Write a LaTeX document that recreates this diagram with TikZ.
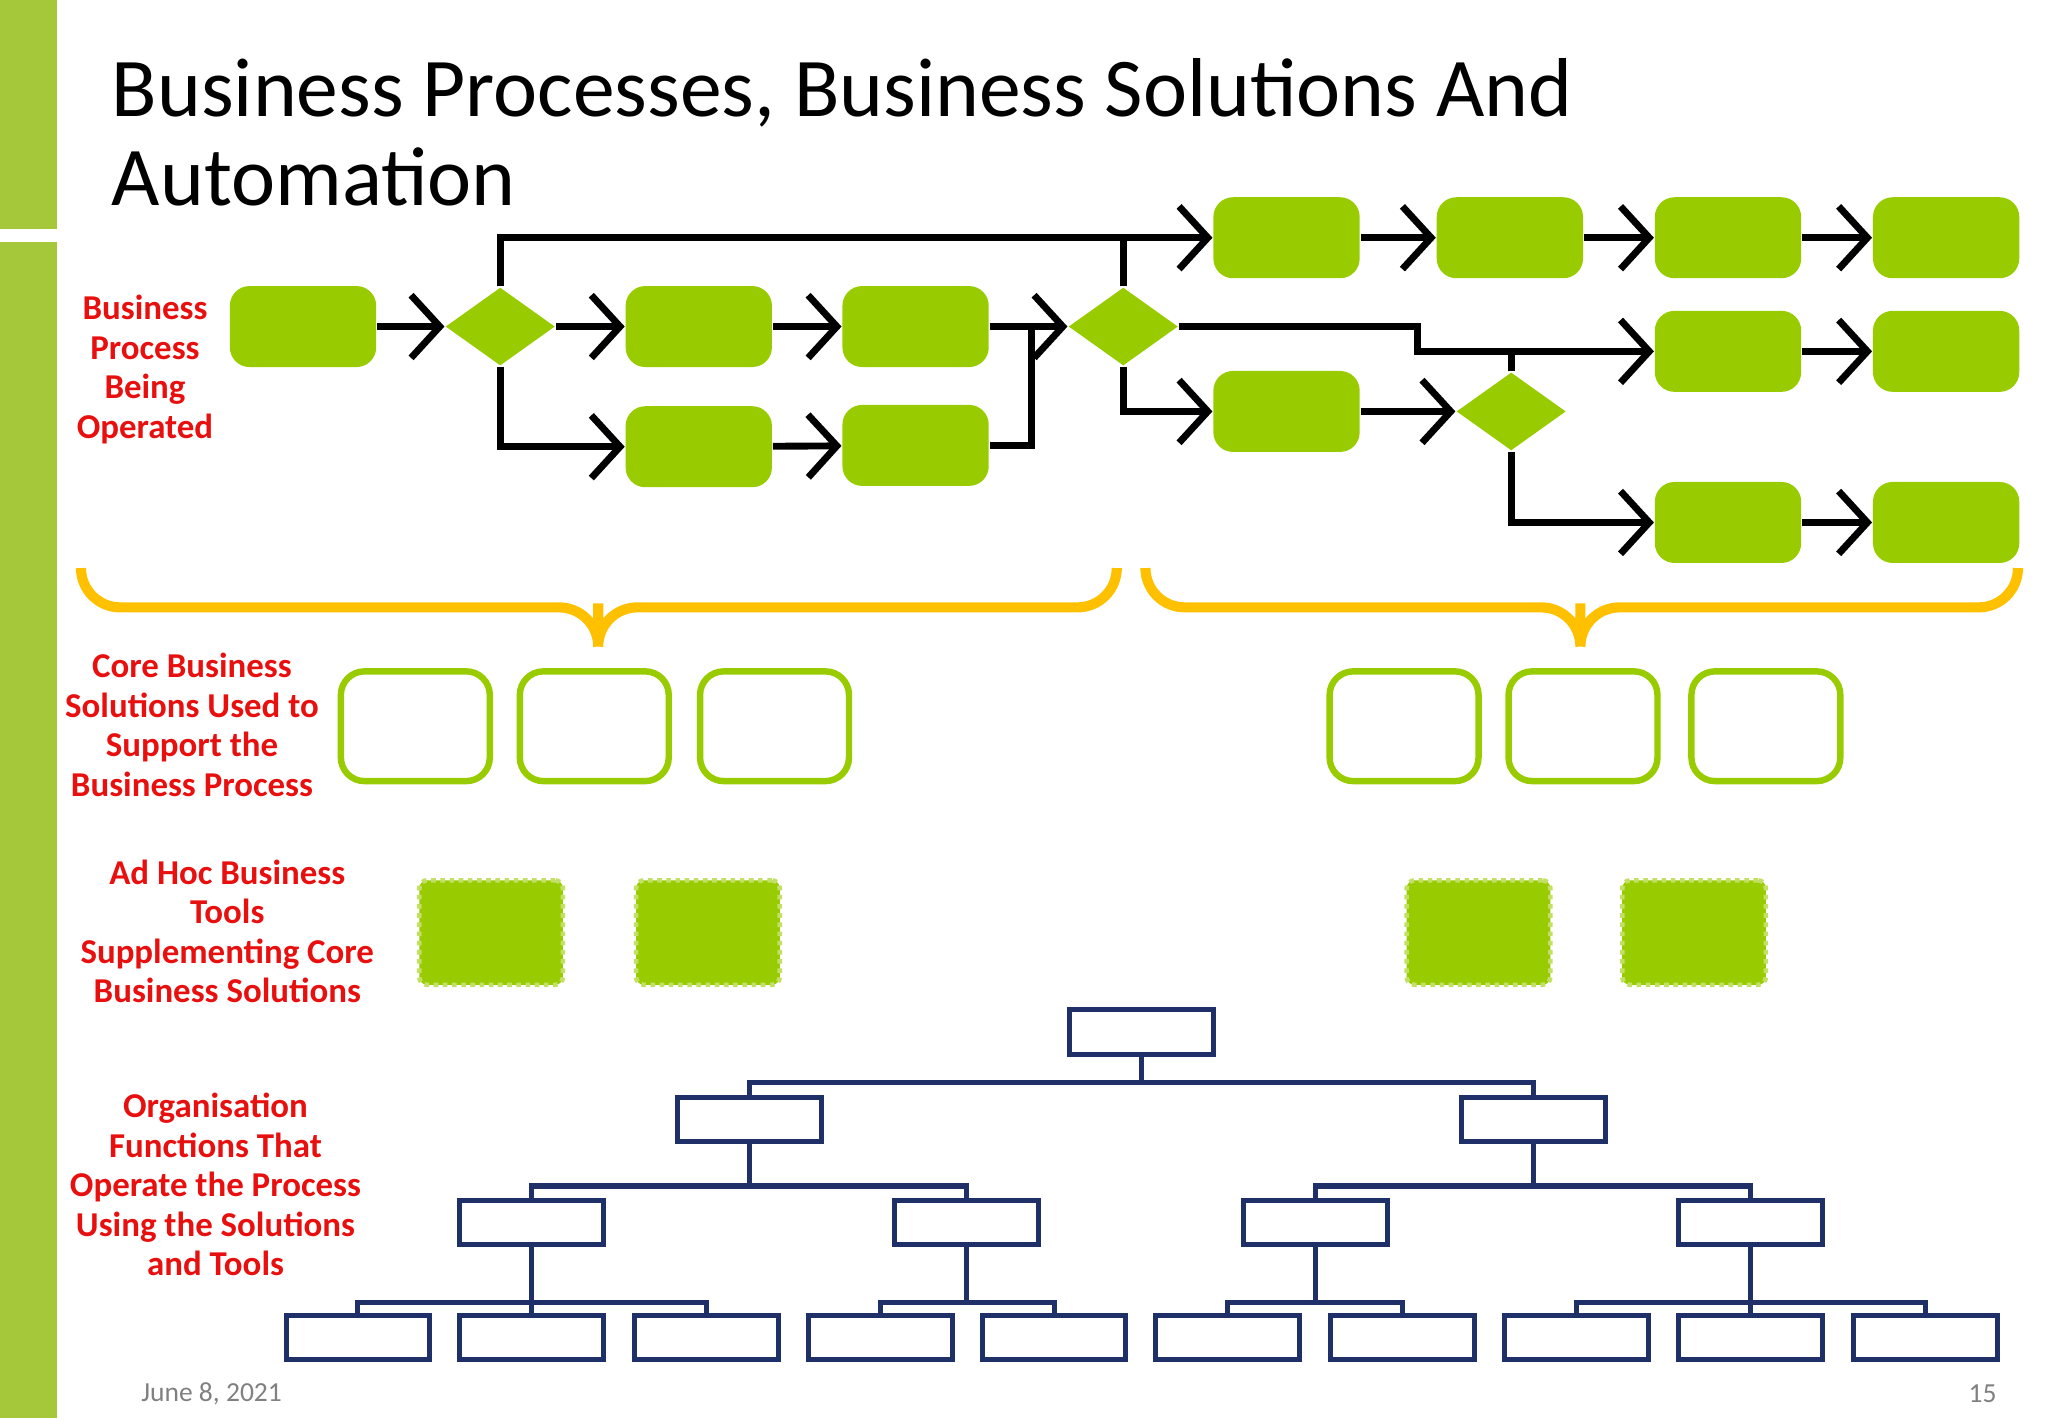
\documentclass[tikz,border=0pt]{standalone}
\usepackage{fontspec}
\setmainfont{Carlito}
\usetikzlibrary{positioning, shapes.geometric, arrows.meta}
\definecolor{leaf}{HTML}{99CC00}
\definecolor{bar}{HTML}{A5C73A}
\definecolor{brace}{HTML}{FFC000}
\definecolor{navy}{HTML}{1F3068}
\definecolor{lbl}{HTML}{E8100F}
\tikzset{
  task/.style = {rounded corners=1.5mm, fill=leaf, minimum width=11.2mm, minimum height=6.2mm},
  gate/.style = {diamond, fill=leaf, minimum width=8.4mm, minimum height=6mm, inner sep=0},
  sol/.style = {rounded corners=1.8mm, draw=leaf, line width=1.4pt, minimum width=11.4mm, minimum height=8.4mm},
  adhoc/.style = {fill=leaf, draw=leaf!60!white, densely dotted, line width=1pt, rounded corners=0.6mm, minimum width=11mm, minimum height=8mm},
  unit/.style = {draw=navy, line width=1.1pt, minimum width=11mm, minimum height=3.4mm},
  flow/.style = {line width=1.5pt, -{Straight Barb[length=2.2mm,width=4.8mm,line width=1.5pt]}},
  link/.style = {line width=1.5pt},
  tree/.style = {draw=navy, line width=1.1pt},
  side/.style = {text=lbl, font=\bfseries\fontsize{7.6}{8.6}\selectfont, align=center}
}
\begin{document}
\begin{tikzpicture}[x=0.1mm, y=-0.1mm]
    \useasboundingbox (0,0) rectangle (1568,1086);
    \fill[bar] (0,0) rectangle (44,175);
    \fill[bar] (0,185) rectangle (44,1086);
    \node[anchor=north west, align=left, font=\fontsize{18.2}{19.5}\selectfont, inner sep=0] (title) at (85,44)
        {Business Processes, Business Solutions And\\Automation};

    % process
    \node[task] (p1) at (232,250) {};
    \node[gate] (g1) at (383,250) {};
    \node[task] (p2) at (535,250) {};
    \node[task] (p3) at (701,250) {};
    \node[task] (p4) at (535,342) {};
    \node[task] (p5) at (701,341) {};
    \node[gate] (g2) at (860,250) {};
    \node[task] (t1) at (985,182) {};
    \node[task] (t2) at (1156,182) {};
    \node[task] (t3) at (1323,182) {};
    \node[task] (t4) at (1490,182) {};
    \node[task] (m1) at (1323,269) {};
    \node[task] (m2) at (1490,269) {};
    \node[task] (q1) at (985,315) {};
    \node[gate] (g3) at (1157,315) {};
    \node[task] (b1) at (1323,400) {};
    \node[task] (b2) at (1490,400) {};

    \draw[flow] (p1) -- (g1);
    \draw[flow] (g1) -- (p2);
    \draw[flow] (p2) -- (p3);
    \draw[flow] (p3) -- (g2);
    \draw[flow] (p4) -- (p5);
    \draw[flow] (g1.north) |- (t1);
    \draw[link] (g2.north) -- (860,182);
    \draw[flow] (g1.south) |- (p4);
    \draw[link] (p5.east) -| (790,250);
    \draw[flow] (g2.east) -- (1085,250) |- (m1);
    \draw[link] (g3.north) -- (1157,269);
    \draw[flow] (g2.south) |- (q1);
    \draw[flow] (q1) -- (g3);
    \draw[flow] (g3.south) |- (b1);
    \draw[flow] (t1) -- (t2);
    \draw[flow] (t2) -- (t3);
    \draw[flow] (t3) -- (t4);
    \draw[flow] (m1) -- (m2);
    \draw[flow] (b1) -- (b2);

    % braces
    \draw[brace, line width=2.2pt, rounded corners=3mm]
        (62,437) -- (62,465) -- (458,465) -- (458,492) -- (458,465) -- (855,465) -- (855,437);
    \draw[brace, line width=2.2pt, rounded corners=3mm]
        (877,437) -- (877,465) -- (1210,465) -- (1210,492) -- (1210,465) -- (1545,465) -- (1545,437);

    % solutions
    \foreach \x [count=\i] in {318,455,593,1075,1212,1352}
        \node[sol] (s\i) at (\x,556) {};
    \foreach \x [count=\i] in {376,542,1132,1297}
        \node[adhoc] (h\i) at (\x,714) {};

    % organisation
    \node[unit] (o) at (874,790) {};
    \node[unit] (oa) at (574,857) {};
    \node[unit] (ob) at (1174,857) {};
    \node[unit] (oaa) at (407,936) {};
    \node[unit] (oab) at (740,936) {};
    \node[unit] (oba) at (1007,936) {};
    \node[unit] (obb) at (1340,936) {};
    \foreach \x [count=\i] in {274,407,541} \node[unit] (l1\i) at (\x,1024) {};
    \foreach \x [count=\i] in {674,807} \node[unit] (l2\i) at (\x,1024) {};
    \foreach \x [count=\i] in {940,1074} \node[unit] (l3\i) at (\x,1024) {};
    \foreach \x [count=\i] in {1207,1340,1474} \node[unit] (l4\i) at (\x,1024) {};

    \draw[tree] (o.south) -- (874,829);
    \draw[tree] (oa.north) -- (574,829) -| (ob.north);
    \draw[tree] (oa.south) -- (574,908);
    \draw[tree] (oaa.north) -- (407,908) -| (oab.north);
    \draw[tree] (ob.south) -- (1174,908);
    \draw[tree] (oba.north) -- (1007,908) -| (obb.north);
    \draw[tree] (oaa.south) -- (l12.north);
    \draw[tree] (l11.north) -- (274,997) -| (l13.north);
    \draw[tree] (oab.south) -- (740,997);
    \draw[tree] (l21.north) -- (674,997) -| (l22.north);
    \draw[tree] (oba.south) -- (1007,997);
    \draw[tree] (l31.north) -- (940,997) -| (l32.north);
    \draw[tree] (obb.south) -- (l42.north);
    \draw[tree] (l41.north) -- (1207,997) -| (l43.north);

    % side labels
    \node[side] (lp) at (111,283) {Business\\Process\\Being\\Operated};
    \node[side] (ls) at (147,555) {Core Business\\Solutions Used to\\Support the\\Business Process};
    \node[side] (lh) at (174,713) {Ad Hoc Business\\Tools\\Supplementing Core\\Business Solutions};
    \node[side] (lo) at (165,907) {Organisation\\Functions That\\Operate the Process\\Using the Solutions\\and Tools};

    \node[text=gray, font=\fontsize{6}{7}\selectfont] (date) at (162,1067) {June 8, 2021};
    \node[text=gray, font=\fontsize{6}{7}\selectfont] (page) at (1518,1067) {15};
\end{tikzpicture}
\end{document}
